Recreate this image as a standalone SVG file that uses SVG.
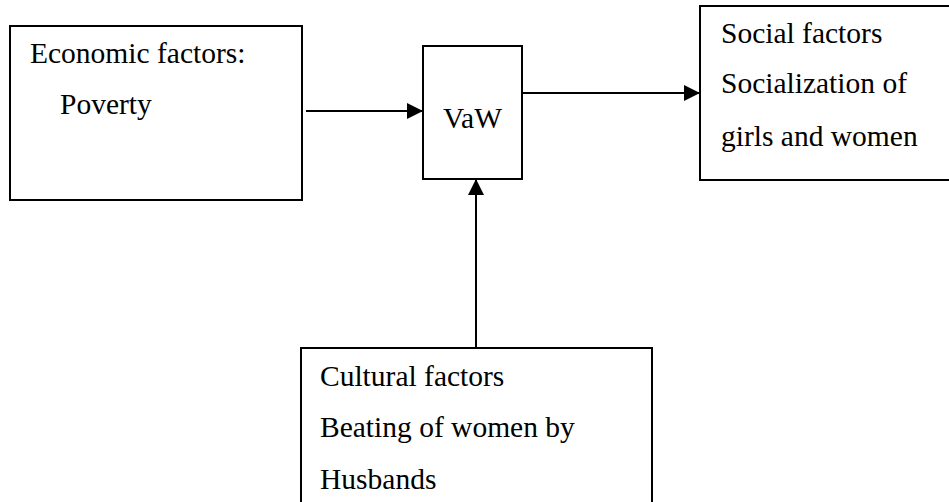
<svg xmlns="http://www.w3.org/2000/svg" width="949" height="502" viewBox="0 0 949 502">
<style>
.box{fill:#fff;stroke:#000;stroke-width:2}
.lbl{font-family:"Liberation Serif","DejaVu Serif","Noto Serif",serif;font-size:29.5px;fill:#000}
.edge{stroke:#000;stroke-width:2;fill:none;marker-end:url(#ah)}
</style>
<defs>
<marker id="ah" markerUnits="userSpaceOnUse" markerWidth="16" markerHeight="16" viewBox="0 0 15 15" refX="15" refY="7.5" orient="auto">
<path d="M0,0 L15,7.5 L0,15 Z" fill="#000"/>
</marker>
</defs>
<rect width="949" height="502" fill="#fff"/>
<g id="economic">
<rect class="box" x="10" y="26" width="292" height="174"/>
<text class="lbl" x="30" y="63">Economic factors:</text>
<text class="lbl" x="60" y="114">Poverty</text>
</g>
<g id="vaw">
<rect class="box" x="423" y="46" width="99" height="133"/>
<text class="lbl" x="443" y="128">VaW</text>
</g>
<g id="social">
<rect class="box" x="700" y="6" width="260" height="174"/>
<text class="lbl" x="721" y="43">Social factors</text>
<text class="lbl" x="721" y="93">Socialization of</text>
<text class="lbl" x="721" y="146">girls and women</text>
</g>
<g id="cultural">
<rect class="box" x="301" y="348" width="351" height="170"/>
<text class="lbl" x="320" y="386">Cultural factors</text>
<text class="lbl" x="320" y="437">Beating of women by</text>
<text class="lbl" x="320" y="489">Husbands</text>
</g>
<g id="connectors">
<line class="edge" x1="306" y1="111" x2="423" y2="111"/>
<line class="edge" x1="522" y1="93" x2="700" y2="93"/>
<line class="edge" x1="476" y1="348" x2="476" y2="179"/>
</g>
</svg>
